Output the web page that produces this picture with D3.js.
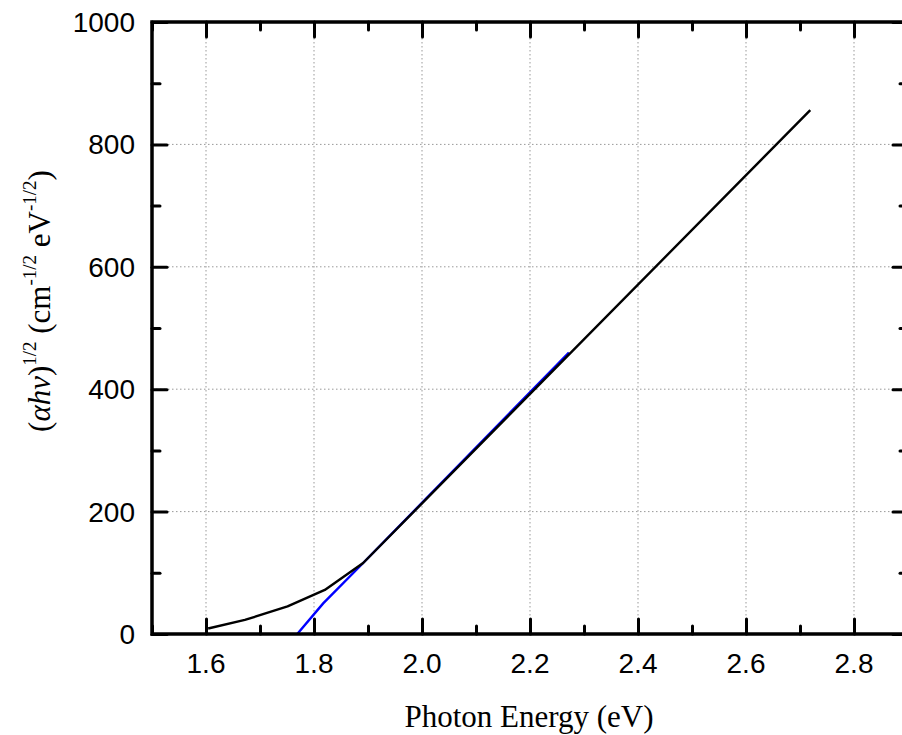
<!DOCTYPE html>
<html>
<head>
<meta charset="utf-8">
<script src="https://cdn.jsdelivr.net/npm/d3@7"></script>
<style>
	body { margin: 0; background: #fff; }
	.tick-label { font-family: "Liberation Sans", Arial, sans-serif; font-size: 28px; font-weight: normal; fill: #000; }
	.axis-title { font-family: "Liberation Serif", "Times New Roman", serif; font-size: 31px; fill: #000; }
</style>
</head>
<body>
<div id="chart"></div>
<script>
// Tauc plot

const xTicks = [1.6, 1.8, 2.0, 2.2, 2.4, 2.6, 2.8];
const yTicks = [0, 200, 400, 600, 800, 1000];

// measured curve
const dataX = [1.604, 1.672, 1.751, 1.820, 1.891, 2.719];
const dataY = [9, 23, 45, 72, 116, 856];

// linear fit segment
const fitX = [1.769, 1.817, 1.891, 2.272];
const fitY = [0, 50, 116, 460];

const width = 902, height = 735;
const m = { left: 152, right: 908, top: 22, bottom: 634 };

const svg = d3.select('#chart').append('svg')
	.attr('width', width)
	.attr('height', height);

const xScale = d3.scaleLinear().domain([1.5, 2.9]).range([m.left, m.right]);
const yScale = d3.scaleLinear().domain([0, 1000]).range([m.bottom, m.top]);

//grid
const grid = svg.append('g').attr('class', 'grid')
	.style('stroke', '#999')
	.style('stroke-width', 1)
	.style('stroke-dasharray', '1.5,2.5');

grid.selectAll('.gx').data(xTicks).enter().append('line')
	.attr('x1', d => xScale(d)).attr('x2', d => xScale(d))
	.attr('y1', m.top).attr('y2', m.bottom);

grid.selectAll('.gy').data(yTicks.filter(d => d > 0 && d < 1000)).enter().append('line')
	.attr('y1', d => yScale(d)).attr('y2', d => yScale(d))
	.attr('x1', m.left).attr('x2', m.right);

//lines
const line = d3.line()
	.x(d => xScale(d[0]))
	.y(d => yScale(d[1]));

svg.append('path')
	.datum(fitX.map((d, i) => [d, fitY[i]]))
	.attr('fill', 'none')
	.attr('stroke', '#0000ff')
	.attr('stroke-width', 2.4)
	.attr('d', line);

svg.append('path')
	.datum(dataX.map((d, i) => [d, dataY[i]]))
	.attr('fill', 'none')
	.attr('stroke', '#000')
	.attr('stroke-width', 2.4)
	.attr('stroke-linejoin', 'round')
	.attr('d', line);

//axes, ticks pointing inward on all four sides
const xMinor = d3.range(15).map(i => 1.5 + i * 0.1).filter(d => !xTicks.some(t => Math.abs(t - d) < 1e-6));
const yMinor = d3.range(11).map(i => i * 100).filter(d => d % 200 != 0);

function drawAxis(axis, tickSize) {
	return svg.append('g')
		.call(axis.tickSize(tickSize).tickFormat(''))
		.call(g => g.select('.domain').remove())
		.call(g => g.selectAll('.tick line')
			.attr('stroke', '#000')
			.attr('stroke-width', 3)
			.attr('stroke-linecap', 'round'));
}

drawAxis(d3.axisTop(xScale).tickValues(xTicks), 15).attr('transform', 'translate(0,' + m.bottom + ')');
drawAxis(d3.axisTop(xScale).tickValues(xMinor), 8).attr('transform', 'translate(0,' + m.bottom + ')');
drawAxis(d3.axisBottom(xScale).tickValues(xTicks), 15).attr('transform', 'translate(0,' + m.top + ')');
drawAxis(d3.axisBottom(xScale).tickValues(xMinor), 8).attr('transform', 'translate(0,' + m.top + ')');
drawAxis(d3.axisRight(yScale).tickValues(yTicks), 15).attr('transform', 'translate(' + m.left + ',0)');
drawAxis(d3.axisRight(yScale).tickValues(yMinor), 8).attr('transform', 'translate(' + m.left + ',0)');
drawAxis(d3.axisLeft(yScale).tickValues(yTicks), 15).attr('transform', 'translate(' + m.right + ',0)');
drawAxis(d3.axisLeft(yScale).tickValues(yMinor), 8).attr('transform', 'translate(' + m.right + ',0)');

svg.append('rect')
	.attr('x', m.left).attr('y', m.top)
	.attr('width', m.right - m.left).attr('height', m.bottom - m.top)
	.attr('fill', 'none')
	.attr('stroke', '#000')
	.attr('stroke-width', 3.5);

//tick labels
svg.selectAll('.xlab').data(xTicks).enter().append('text')
	.attr('class', 'tick-label')
	.attr('x', d => xScale(d))
	.attr('y', 673)
	.attr('text-anchor', 'middle')
	.text(d => d3.format('.1f')(d));

svg.selectAll('.ylab').data(yTicks).enter().append('text')
	.attr('class', 'tick-label')
	.attr('x', 135)
	.attr('y', d => yScale(d) + 10)
	.attr('text-anchor', 'end')
	.text(d => d);

//axis titles
svg.append('text')
	.attr('class', 'axis-title')
	.attr('x', 529)
	.attr('y', 727)
	.attr('text-anchor', 'middle')
	.text('Photon Energy (eV)');

const yTitle = svg.append('text')
	.attr('class', 'axis-title')
	.attr('text-anchor', 'middle')
	.attr('transform', 'translate(50,301) rotate(-90)');

yTitle.append('tspan').text('(');
yTitle.append('tspan').style('font-style', 'italic').text('αhν');
yTitle.append('tspan').text(')');
yTitle.append('tspan').attr('dy', -14).style('font-size', '19px').text('1/2');
yTitle.append('tspan').attr('dy', 14).text(' (cm');
yTitle.append('tspan').attr('dy', -14).style('font-size', '19px').text('-1/2');
yTitle.append('tspan').attr('dy', 14).text(' eV');
yTitle.append('tspan').attr('dy', -14).style('font-size', '19px').text('-1/2');
yTitle.append('tspan').attr('dy', 14).text(')');
</script>
</body>
</html>
